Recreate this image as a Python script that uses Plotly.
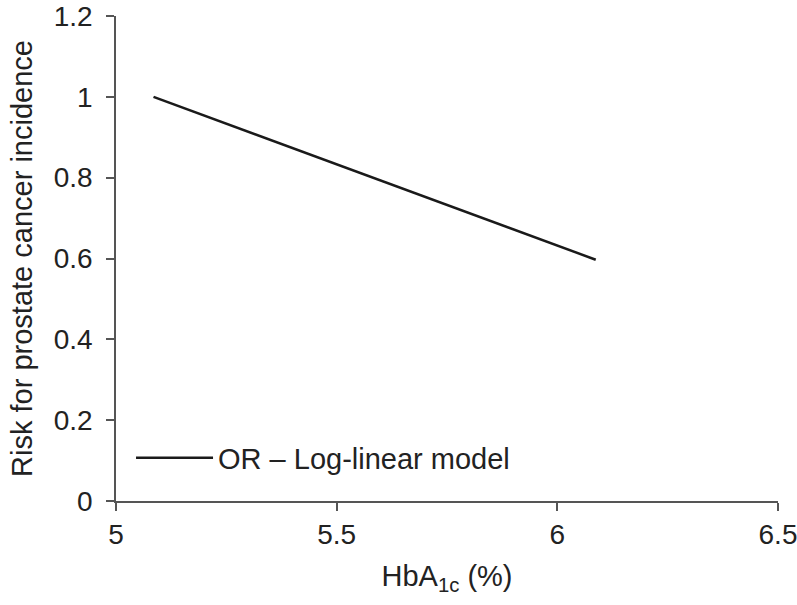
import plotly.graph_objects as go

hba1c = [5.085, 6.087]
risk = [1.0, 0.597]
series_name = "OR – Log-linear model"
x_ticks = [5, 5.5, 6, 6.5]
x_tick_labels = ["5", "5.5", "6", "6.5"]
y_ticks = [0, 0.2, 0.4, 0.6, 0.8, 1.0, 1.2]
y_tick_labels = ["0", "0.2", "0.4", "0.6", "0.8", "1", "1.2"]

fig = go.Figure()
fig.add_trace(go.Scatter(x=hba1c, y=risk, mode="lines", name=series_name,
                         line=dict(color="#1a1a1a", width=2.5), showlegend=True))

txt = "#222"
fig.update_layout(
    width=797, height=605,
    margin=dict(l=116, r=19, t=16, b=104, autoexpand=False),
    paper_bgcolor="white", plot_bgcolor="white",
    font=dict(family="Liberation Sans, Arial, sans-serif", size=28, color=txt),
    showlegend=True,
    legend=dict(x=0.0227, y=0.0887, xanchor="left", yanchor="middle",
                bgcolor="rgba(0,0,0,0)", font=dict(size=29, color=txt),
                itemwidth=77, borderwidth=0),
    xaxis=dict(range=[5, 6.5], tickvals=x_ticks, ticktext=x_tick_labels,
               automargin=False, ticklabeloverflow="allow",
               showgrid=False, zeroline=False, showline=True, linecolor="#555",
               linewidth=1.5, ticks="outside", ticklen=8, tickcolor="#555",
               tickwidth=1.5, ticklabelstandoff=0,
               tickfont=dict(size=28, color=txt),
               title=dict(text="HbA<sub>1c</sub> (%)", font=dict(size=29, color=txt), standoff=16)),
    yaxis=dict(range=[0, 1.2], tickvals=y_ticks, ticktext=y_tick_labels,
               automargin=False, ticklabeloverflow="allow",
               showgrid=False, zeroline=False, showline=True, linecolor="#555",
               linewidth=1.5, ticks="outside", ticklen=8, tickcolor="#555",
               tickwidth=1.5, ticklabelstandoff=8,
               tickfont=dict(size=28, color=txt),
               title=dict(text="Risk for prostate cancer incidence", font=dict(size=29, color=txt), standoff=13)),
)
fig.write_html("out.html", config={"displayModeBar": False},
               post_script="document.body.style.margin='0';")
